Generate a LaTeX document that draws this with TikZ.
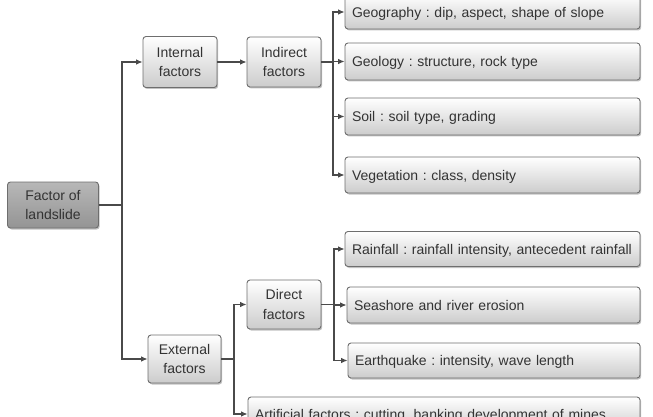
\documentclass[tikz,border=0pt]{standalone}
\usepackage{fontspec}
\setmainfont{Liberation Sans}
\usetikzlibrary{shadows,arrows.meta}
\definecolor{txt}{HTML}{333333}
\definecolor{edge}{HTML}{6E6E6E}
\definecolor{ln}{HTML}{4A4A4A}
\tikzset{
  box/.style={draw=edge, line width=0.9pt, rounded corners=3pt, top color=white, bottom color=black!20,
    drop shadow={shadow xshift=1.2pt, shadow yshift=-1.5pt, fill=black!40, opacity=0.6},
    text=txt, font=\fontsize{14}{19.5}\selectfont, inner sep=0pt},
  small/.style={box, align=center},
  wide/.style={box, align=left, text width=#1, text depth=0pt},
  gbox/.style={box, top color=black!28, bottom color=black!42, align=center},
  arr/.style={draw=ln, line width=1.1pt, -{Latex[length=6.5pt,width=5.5pt]}},
  ln/.style={draw=ln, line width=1.1pt}
}
\begin{document}
\frenchspacing
\begin{tikzpicture}[x=1pt,y=-1pt]
\useasboundingbox (0,0) rectangle (653,417);
\clip (0,0) rectangle (653,417);
% left
\node[gbox, minimum width=91pt, minimum height=46pt] (fac) at (53,205) {Factor of\\landslide};
\node[small, minimum width=74pt, minimum height=51pt] (int) at (180,62) {Internal\\factors};
\node[small, minimum width=74pt, minimum height=50pt] (ind) at (284,62) {Indirect\\factors};
\node[small, minimum width=73pt, minimum height=48pt] (ext) at (184.5,359) {External\\factors};
\node[small, minimum width=74pt, minimum height=49pt] (dir) at (284,304.5) {Direct\\factors};
% right boxes
\node[wide=281pt, minimum width=295pt, minimum height=34pt] (geo) at (492.5,12) {Geography : dip, aspect, shape of slope};
\node[wide=281pt, minimum width=295pt, minimum height=37pt] (geol) at (492.5,61.5) {Geology : structure, rock type};
\node[wide=281pt, minimum width=295pt, minimum height=37pt] (soil) at (492.5,116.5) {Soil : soil type, grading};
\node[wide=281pt, minimum width=295pt, minimum height=36pt] (veg) at (492.5,175) {Vegetation : class, density};
\node[wide=281pt, minimum width=295pt, minimum height=35pt] (rain) at (492.5,249) {Rainfall : rainfall intensity, antecedent rainfall};
\node[wide=279pt, minimum width=293pt, minimum height=36pt] (sea) at (493.5,305) {Seashore and river erosion};
\node[wide=278pt, minimum width=292pt, minimum height=35pt] (eq) at (494,360.5) {Earthquake : intensity, wave length};
\node[wide=378pt, minimum width=392pt, minimum height=34pt] (art) at (444,414) {Artificial factors : cutting, banking development of mines etc.};
% junctions
\coordinate (j1) at (122,205);
\coordinate (j2) at (333,62);
\coordinate (j3) at (234,359);
\coordinate (j4) at (334,304.5);
% connectors
\draw[ln] (fac.east) -- (j1);
\draw[arr] (j1) |- (int.west);
\draw[arr] (j1) |- (ext.west);
\draw[arr] (int.east) -- (ind.west);
\draw[ln] (ind.east) -- (j2);
\draw[arr] (j2) |- (geo.west);
\draw[arr] (j2) |- (geol.west);
\draw[arr] (j2) |- (soil.west);
\draw[arr] (j2) |- (veg.west);
\draw[ln] (ext.east) -- (j3);
\draw[arr] (j3) |- (dir.west);
\draw[arr] (j3) |- (art.west);
\draw[ln] (dir.east) -- (j4);
\draw[arr] (j4) |- (rain.west);
\draw[arr] (j4) |- (sea.west);
\draw[arr] (j4) |- (eq.west);
\end{tikzpicture}
\end{document}
